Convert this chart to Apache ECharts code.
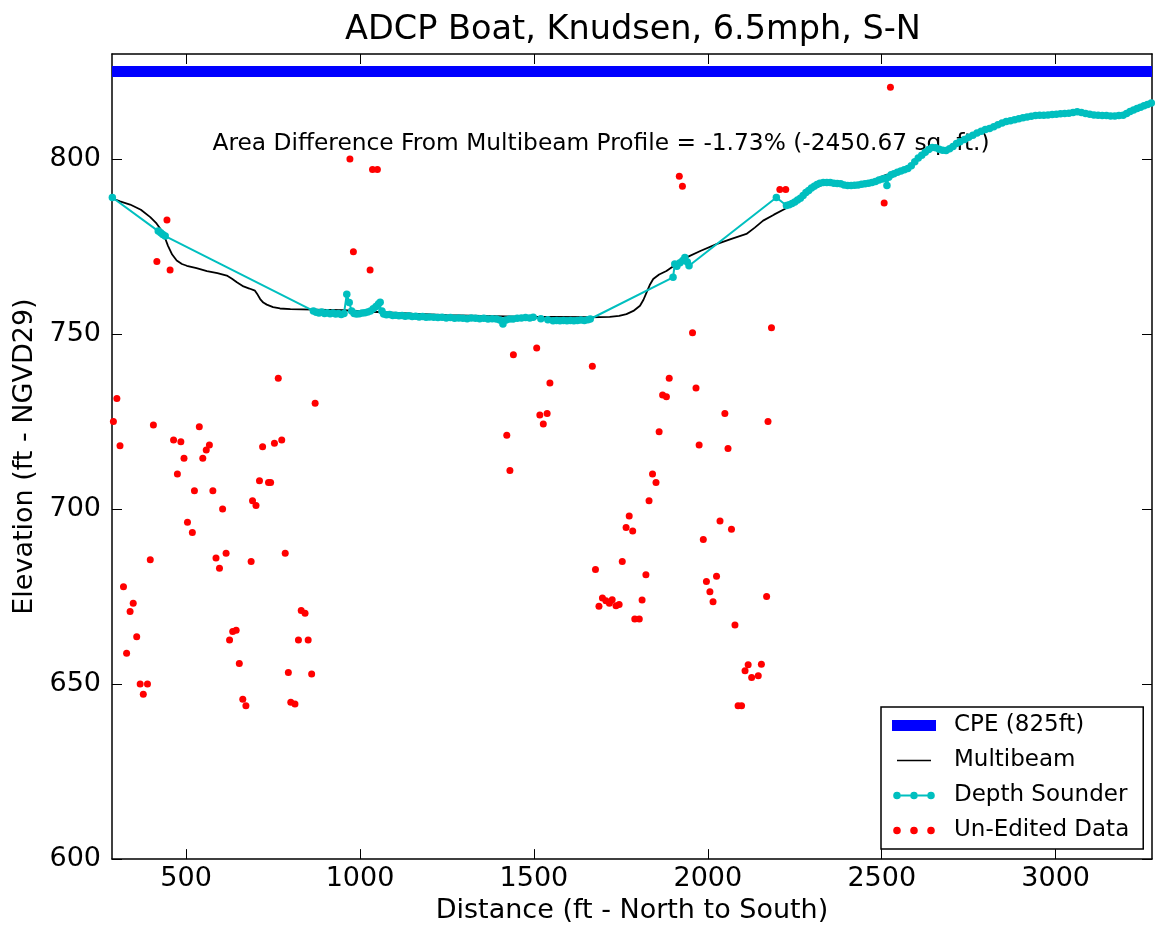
<!DOCTYPE html>
<html>
<head>
<meta charset="utf-8">
<title>ADCP Boat, Knudsen, 6.5mph, S-N</title>
<script src="https://cdn.jsdelivr.net/npm/echarts@6/dist/echarts.min.js"></script>
<style>
  html, body { margin: 0; padding: 0; background: #fff; }
  #chart { width: 1158px; height: 929px; }
</style>
</head>
<body>
<div id="chart"></div>
<script>
// axis extents and ticks
var xMin = 287, xMax = 3277;
var yMin = 600, yMax = 830;
var xTicks = [500, 1000, 1500, 2000, 2500, 3000];
var yTicks = [600, 650, 700, 750, 800];

// CPE elevation (ft)
var cpeLevel = 825;

// multibeam profile
var multibeamX = [287, 310, 339, 370, 397, 415, 430, 440, 448, 460, 473, 488, 502, 530, 560, 590, 617, 632, 646, 665,
  682, 698, 706, 713, 722, 732, 750, 770, 800, 866, 950, 1050, 1150, 1250, 1350, 1450, 1550, 1660, 1718, 1745,
  1766, 1786, 1805, 1815, 1824, 1833, 1843, 1860, 1881, 1910, 1939, 1980, 2025, 2068, 2111, 2135, 2159, 2190, 2221, 2260,
  2300, 2340, 2400, 2460, 2500, 2517];
var multibeamY = [788.8, 787.9, 787.0, 785.5, 783.4, 781.6, 779.5, 777.3, 775.2, 772.7, 771.0, 770.0, 769.5, 768.8, 768.0, 767.4, 766.7, 765.8, 764.8, 763.6,
  763.0, 762.4, 761.2, 760.0, 759.0, 758.4, 757.7, 757.3, 757.1, 757.0, 756.8, 756.3, 755.8, 755.4, 755.2, 755.0, 754.9, 754.8, 754.9, 755.2,
  755.7, 756.6, 758.1, 759.8, 761.9, 764.0, 765.7, 767.0, 768.0, 770.0, 771.9, 773.8, 775.7, 777.2, 778.6, 780.4, 782.4, 784.1, 785.7, 788.2,
  791.4, 793.1, 792.7, 793.2, 795.0, 795.6];

// depth sounder track
var depthX = [288, 420, 427, 433, 440,
  866, 874, 882, 890, 898, 906, 914, 922, 930, 938, 946, 954, 962, 969, 976, 983, 990, 998, 1006, 1014, 1022, 1030, 1038, 1046, 1053, 1058, 1063, 1068,
  1076, 1085, 1094, 1103, 1112, 1121, 1130, 1140, 1150, 1160, 1170, 1180, 1190, 1200, 1212, 1224, 1236, 1248, 1260, 1272, 1284, 1296, 1308, 1320,
  1332, 1344, 1356, 1368, 1380, 1392, 1402, 1411, 1420, 1430, 1440, 1452, 1464, 1476, 1488, 1498, 1520, 1540, 1555, 1565, 1575, 1585, 1595, 1605,
  1615, 1625, 1635, 1645, 1655, 1662,
  1900, 1905, 1911, 1920, 1928, 1934, 1941, 1946,
  2197, 2226, 2234, 2242, 2250, 2258, 2266, 2274, 2282, 2290, 2298, 2306, 2314, 2322, 2332, 2342, 2352, 2362, 2372, 2382, 2392, 2402, 2412, 2422,
  2432, 2442, 2452, 2462, 2472, 2482, 2492, 2502, 2510, 2515, 2520, 2527, 2535, 2545, 2555, 2565, 2575, 2585, 2595, 2605, 2615, 2625, 2635, 2645,
  2655, 2665, 2675, 2685, 2695, 2705, 2715, 2725, 2738, 2750, 2762, 2774, 2786, 2798, 2810, 2822, 2834, 2846, 2858, 2870, 2882, 2894, 2906, 2918,
  2930, 2942, 2954, 2966, 2978, 2990, 3002, 3014, 3026, 3038, 3050, 3062, 3074, 3086, 3098, 3110, 3122, 3134, 3146, 3158, 3170, 3182, 3194, 3204,
  3214, 3224, 3234, 3244, 3254, 3264, 3275];
var depthY = [789.0, 779.4, 778.9, 778.4, 778.0,
  756.6, 756.2, 756.0, 756.3, 755.9, 756.1, 755.8, 756.0, 755.7, 755.9, 755.6, 755.9, 761.4, 759.0, 756.6, 755.9, 755.7, 755.8, 756.0, 756.1, 756.3, 756.6, 757.2, 757.9, 758.6, 759.1, 756.6, 755.7,
  755.5, 755.6, 755.3, 755.4, 755.2, 755.3, 755.1, 755.2, 755.0, 755.1, 754.9, 755.0, 754.8, 754.9, 754.8, 754.7, 754.8, 754.6, 754.7, 754.5, 754.6, 754.5, 754.4, 754.6,
  754.5, 754.4, 754.5, 754.3, 754.4, 754.3, 754.0, 752.9, 754.0, 754.3, 754.3, 754.5, 754.6, 754.7, 754.6, 754.8, 754.4, 754.1, 753.8, 753.9, 753.8, 753.9, 753.8, 753.9,
  753.8, 753.9, 754.0, 753.9, 754.1, 754.3,
  766.2, 770.0, 769.4, 770.4, 771.0, 771.9, 770.6, 769.5,
  789.0, 786.7, 786.9, 787.3, 787.7, 788.3, 788.8, 789.6, 790.4, 791.0, 791.7, 792.2, 792.7, 793.1, 793.3, 793.3, 793.3, 793.1, 793.0, 792.9, 792.6, 792.4, 792.4, 792.5,
  792.6, 792.8, 792.9, 793.1, 793.3, 793.6, 794.0, 794.3, 794.5, 792.4, 794.8, 795.5, 795.8, 796.2, 796.6, 796.9, 797.3, 798.1, 799.2, 800.3, 801.1, 801.9, 802.7, 803.3,
  803.2, 802.8, 802.5, 802.4, 802.9, 803.6, 804.4, 804.9, 805.6, 806.2, 806.8, 807.4, 807.9, 808.4, 808.7, 809.2, 809.8, 810.3, 810.7, 810.9, 811.2, 811.5, 811.8, 812.0,
  812.2, 812.4, 812.5, 812.5, 812.6, 812.7, 812.8, 812.9, 813.0, 813.1, 813.3, 813.5, 813.3, 813.0, 812.8, 812.6, 812.5, 812.4, 812.4, 812.3, 812.3, 812.4, 812.5, 813.0,
  813.6, 814.0, 814.4, 814.8, 815.2, 815.6, 816.0];

// un-edited raw returns
var rawX = [301, 291, 310, 406, 538, 464, 485, 494, 475, 524, 577, 605, 504, 518, 397, 586, 615, 596, 687, 785,
  548, 558, 567, 720, 754, 775, 765, 871, 711, 737, 743, 691, 701, 320, 348, 339, 358, 329, 368, 389,
  377, 634, 644, 625, 653, 663, 672, 794, 861, 831, 842, 823, 851, 801, 813,
  1441, 1508, 1668, 1546, 1517, 1538, 1527, 1422, 1431, 1956, 2183, 1889, 1966, 1870, 1881, 2049, 2173, 1860, 1975, 2058,
  1841, 1851, 1831, 1774, 1765, 1784, 2035, 2068, 1987, 1754, 1677, 1822, 2025, 1996, 2006, 2015, 2169, 1811, 1697, 1707,
  1725, 1717, 1687, 1736, 1745, 1790, 1803, 2078, 2116, 2154, 2107, 2126, 2145, 2087, 2097,
  971, 1036, 1050, 445, 416, 454, 981, 1029, 1918, 1927, 2207, 2224, 2525, 2507];
var rawY = [731.6, 725.0, 718.1, 724.0, 723.5, 719.7, 719.2, 714.5, 710.0, 705.2, 705.2, 700.0, 696.2, 693.3, 685.5, 686.0, 687.4, 683.1, 685.0, 687.4,
  714.5, 716.9, 718.3, 717.8, 718.8, 719.7, 737.4, 730.2, 708.1, 707.6, 707.6, 702.4, 701.0, 677.8, 673.1, 670.7, 663.5, 658.8, 650.0, 650.0,
  647.1, 665.0, 665.4, 662.6, 655.9, 645.7, 643.8, 653.3, 652.9, 671.0, 670.2, 662.6, 662.6, 644.8, 644.3,
  744.1, 746.0, 740.8, 736.0, 726.9, 727.3, 724.3, 721.1, 711.0, 750.4, 751.8, 737.4, 734.6, 732.6, 732.1, 727.3, 725.0, 722.1, 718.3, 717.3,
  710.0, 707.6, 702.4, 698.0, 694.7, 693.7, 696.6, 694.2, 691.3, 685.0, 682.7, 681.2, 680.8, 679.3, 676.4, 673.5, 675.0, 674.0, 674.6, 673.8,
  674.1, 673.1, 672.2, 672.4, 672.7, 668.6, 668.6, 666.9, 655.5, 655.7, 653.8, 651.9, 652.4, 643.8, 643.8,
  800.0, 797.0, 797.0, 782.6, 770.7, 768.3, 773.5, 768.3, 795.1, 792.2, 791.3, 791.3, 820.5, 787.4];

var noteText = 'Area Difference From Multibeam Profile = -1.73% (-2450.67 sq. ft.)';
var noteAt = [576, 804.4];

function pairs(xs, ys) {
  var out = [];
  for (var i = 0; i < xs.length; i++) out.push([xs[i], ys[i]]);
  return out;
}

var FONT = 'DejaVu Sans';
var cyan = '#00bfbf';

// legend icons drawn in a 44x14 box; the "M0,0 L44,14" segment only fixes the bounds
var iconCpe = 'path://M0,0 L44,14 M0,1.5 L44,1.5 L44,12.5 L0,12.5 Z';
var iconLine = 'path://M0,0 L44,14 M5,6.3 L39,6.3 L39,7.7 L5,7.7 Z';
var dots = ' M1.2,7 a3.8,3.8 0 1,0 7.6,0 a3.8,3.8 0 1,0 -7.6,0 Z' +
  ' M18.2,7 a3.8,3.8 0 1,0 7.6,0 a3.8,3.8 0 1,0 -7.6,0 Z' +
  ' M35.2,7 a3.8,3.8 0 1,0 7.6,0 a3.8,3.8 0 1,0 -7.6,0 Z';
var iconDots = 'path://M0,0 L44,14' + dots;
// line pieces only between the dots so the fills never overlap
var iconLineDots = 'path://M0,0 L44,14' + dots + ' M8.8,6 L18.2,6 L18.2,8 L8.8,8 Z M25.8,6 L35.2,6 L35.2,8 L25.8,8 Z';

var chart = echarts.init(document.getElementById('chart'));

function plain(v) { return String(v); }

function axisX(pos, labels) {
  return {
    type: 'value', position: pos, min: xMin, max: xMax,
    axisLine: { show: true, onZero: false, lineStyle: { color: '#000', width: 1.5 } },
    axisTick: { show: true, inside: true, length: 10, customValues: xTicks, lineStyle: { color: '#000', width: 1 } },
    axisLabel: { show: labels, customValues: xTicks, formatter: plain, fontSize: 27, fontFamily: FONT, color: '#000', margin: 6 },
    splitLine: { show: false }
  };
}
function axisY(pos, labels) {
  return {
    type: 'value', position: pos, min: yMin, max: yMax,
    axisLine: { show: true, onZero: false, lineStyle: { color: '#000', width: 1.5 } },
    axisTick: { show: true, inside: true, length: 10, customValues: yTicks, lineStyle: { color: '#000', width: 1 } },
    axisLabel: { show: labels, customValues: yTicks, formatter: plain, fontSize: 27, fontFamily: FONT, color: '#000', margin: 11 },
    splitLine: { show: false }
  };
}

var xBottom = axisX('bottom', true);
xBottom.name = 'Distance (ft - North to South)';
xBottom.nameLocation = 'middle';
xBottom.nameGap = 36;
xBottom.nameTextStyle = { fontSize: 27, fontFamily: FONT, color: '#000' };
var yLeft = axisY('left', true);
yLeft.name = 'Elevation (ft - NGVD29)';
yLeft.nameLocation = 'middle';
yLeft.nameGap = 72;
yLeft.nameTextStyle = { fontSize: 27, fontFamily: FONT, color: '#000' };

var option = {
  animation: false,
  backgroundColor: '#fff',
  title: {
    text: 'ADCP Boat, Knudsen, 6.5mph, S-N',
    left: 628, top: 8, textAlign: 'center',
    textStyle: { fontSize: 33.5, fontWeight: 'normal', fontFamily: FONT, color: '#000' }
  },
  grid: { left: 112, right: 6, top: 54, bottom: 68, containLabel: false },
  xAxis: [xBottom, axisX('top', false)],
  yAxis: [yLeft, axisY('right', false)],
  legend: {
    orient: 'vertical', left: 881, top: 707,
    padding: [7, 14, 7, 11], itemGap: 12, itemWidth: 44, itemHeight: 14,
    symbolKeepAspect: false,
    borderColor: '#000', borderWidth: 1.5, backgroundColor: '#fff',
    selectedMode: false,
    textStyle: { fontSize: 23, fontFamily: FONT, color: '#000', lineHeight: 23, padding: [0, 0, 0, 13] },
    data: [
      { name: 'CPE (825ft)', icon: iconCpe, itemStyle: { color: '#0000ff', borderWidth: 0 } },
      { name: 'Multibeam', icon: iconLine, itemStyle: { color: '#000', borderWidth: 0 } },
      { name: 'Depth Sounder', icon: iconLineDots, itemStyle: { color: cyan, borderWidth: 0 } },
      { name: 'Un-Edited Data', icon: iconDots, itemStyle: { color: '#ff0000', borderWidth: 0 } }
    ]
  },
  series: [
    {
      name: 'CPE (825ft)', type: 'line', symbol: 'none',
      data: [[xMin, cpeLevel], [xMax, cpeLevel]],
      lineStyle: { color: '#0000ff', width: 11 }, itemStyle: { color: '#0000ff' }
    },
    {
      name: 'Multibeam', type: 'line', symbol: 'none',
      data: pairs(multibeamX, multibeamY),
      lineStyle: { color: '#000', width: 1.8 }, itemStyle: { color: '#000' }
    },
    {
      name: 'Depth Sounder', type: 'line', symbol: 'circle', symbolSize: 7.5, showAllSymbol: true,
      data: pairs(depthX, depthY),
      lineStyle: { color: cyan, width: 2 }, itemStyle: { color: cyan, borderWidth: 0 }
    },
    {
      name: 'Un-Edited Data', type: 'scatter', symbol: 'circle', symbolSize: 7,
      data: pairs(rawX, rawY),
      itemStyle: { color: '#ff0000', borderWidth: 0, opacity: 1 }
    }
  ]
};
chart.setOption(option);

var p = chart.convertToPixel({ gridIndex: 0 }, noteAt);
chart.setOption({
  graphic: [{
    type: 'text', x: p[0], y: p[1], silent: true,
    style: { text: noteText, fontSize: 23.3, fontFamily: FONT, fill: '#000', align: 'left', verticalAlign: 'middle' }
  }]
});
</script>
</body>
</html>
